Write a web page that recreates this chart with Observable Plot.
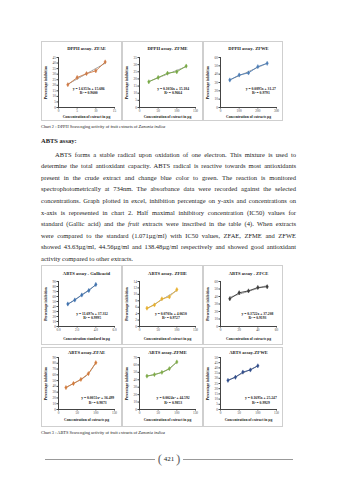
<!DOCTYPE html>
<html><head><meta charset="utf-8">
<script src="https://cdn.jsdelivr.net/npm/d3@7"></script>
<script src="https://cdn.jsdelivr.net/npm/@observablehq/plot@0.6"></script>
<style>
html,body{margin:0;padding:0;background:#fff;}
#page{position:relative;width:339px;height:480px;overflow:hidden;font-family:"Liberation Serif","DejaVu Serif",serif;color:#222;}
.box{position:absolute;border:1px solid #cfcfcf;box-sizing:border-box;}
.ln{position:absolute;left:41px;width:255px;height:9px;line-height:9px;font-size:6.5px;white-space:nowrap;text-align:justify;text-align-last:justify;}
.cap{position:absolute;left:41px;font-size:4.4px;white-space:nowrap;line-height:6px;}
</style></head>
<body><div id="page"></div>
<script>
// ---- data ----
const dpphZfaeX = [2.5, 5, 7.5, 10, 12.5];
const dpphZfaeY = [20.5, 27, 30.5, 33, 41];
const dpphZfaeXTicks = [0, 5, 10, 15];
const dpphZfaeYTicks = [0, 5, 10, 15, 20, 25, 30, 35, 40, 45];

const dpphZfmeX = [25, 50, 75, 100, 125];
const dpphZfmeY = [18, 21, 24, 25, 29];
const dpphZfmeXTicks = [0, 50, 100, 150];
const dpphZfmeYTicks = [0, 5, 10, 15, 20, 25, 30, 35];

const dpphZfweX = [50, 100, 150, 200, 250];
const dpphZfweY = [33, 39, 41.5, 49, 53];
const dpphZfweXTicks = [0, 100, 200, 300];
const dpphZfweYTicks = [0, 10, 20, 30, 40, 50, 60];

const abtsGallicX = [1, 1.75, 2.5, 3.25, 4];
const abtsGallicY = [45, 53, 63, 72, 84];
const abtsGallicXTicks = [0, 2, 4, 6];
const abtsGallicYTicks = [0, 10, 20, 30, 40, 50, 60, 70, 80, 90];

const abtsZfheX = [20, 40, 60, 80, 100];
const abtsZfheY = [5.7, 6.7, 8.6, 9.2, 11.5];
const abtsZfheXTicks = [0, 50, 100, 150];
const abtsZfheYTicks = [0, 2, 4, 6, 8, 10, 12, 14];

const abtsZfceX = [10, 20, 30, 40, 50];
const abtsZfceY = [37, 45, 47.5, 52, 53];
const abtsZfceXTicks = [0, 20, 40, 60];
const abtsZfceYTicks = [0, 10, 20, 30, 40, 50, 60];

const abtsZfaeX = [20, 40, 60, 80, 100];
const abtsZfaeY = [38, 45, 52, 62, 81];
const abtsZfaeXTicks = [0, 50, 100, 150];
const abtsZfaeYTicks = [0, 10, 20, 30, 40, 50, 60, 70, 80, 90];

const abtsZfmeX = [20, 40, 60, 80, 100];
const abtsZfmeY = [45, 47, 50, 55, 64];
const abtsZfmeXTicks = [0, 50, 100, 150];
const abtsZfmeYTicks = [0, 10, 20, 30, 40, 50, 60, 70];

const abtsZfweX = [20, 40, 60, 80, 100];
const abtsZfweY = [28, 31, 36, 38, 42];
const abtsZfweXTicks = [0, 50, 100, 150];
const abtsZfweYTicks = [0, 5, 10, 15, 20, 25, 30, 35, 40, 45, 50];

const chartTitles = ["DPPH assay- ZFAE", "DPPH assay- ZFME", "DPPH assay- ZFWE",
  "ABTS assay - Gallicacid", "ABTS assay- ZFHE", "ABTS assay - ZFCE",
  "ABTS assay-ZFAE", "ABTS assay-ZFME", "ABTS assay-ZFWE"];
const xLabels = ["Concentration of extract in µg", "Concentration of extract in µg", "Concentration of extracts µg",
  "Concentration standard in µg", "Concentration of extract in µg", "Concentration of extracts µg",
  "Concentration of extracts µg", "Concentration of extract in µg", "Concentration of extract in µg"];
const equations = ["y = 1.6353x + 15.686", "y = 0.1056x + 15.184", "y = 0.0895x + 31.27",
  "y = 11.697x + 37.312", "y = 0.0703x + 4.0650", "y = 0.3722x + 37.208",
  "y = 0.0051x² + 36.499", "y = 0.0024x² + 44.592", "y = 0.1695x + 25.247"];
const rSquared = ["R² = 0.9600", "R² = 0.9664", "R² = 0.9791",
  "R² = 0.9995", "R² = 0.9727", "R² = 0.9193",
  "R² = 0.9873", "R² = 0.9853", "R² = 0.9929"];
const colors = ["#cf7a45", "#77a843", "#4d7db6", "#3f72af", "#e8b02e", "#3a3a3a", "#d27a3a", "#7fab48", "#2f4c8a"];

const paragraph = [
  "ABTS forms a stable radical upon oxidation of one electron. This mixture is used to",
  "determine the total antioxidant capacity. ABTS radical is reactive towards most antioxidants",
  "present in the crude extract and change blue color to green. The reaction is monitored",
  "spectrophotometrically at 734nm. The absorbance data were recorded against the selected",
  "concentrations. Graph plotted in excel, inhibition percentage on y-axis and concentrations on",
  "x-axis is represented in chart 2. Half maximal inhibitory concentration (IC50) values for",
  "standard (Gallic acid) and the <i>fruit</i> extracts were inscribed in the table (4). When extracts",
  "were compared to the standard (1.071µg/ml) with IC50 values, ZFAE, ZFME and ZFWE",
  "showed 43.63µg/ml, 44.56µg/ml and 138.48µg/ml respectively and showed good antioxidant",
  "activity compared to other extracts."
];

// ---- layout ----
const page = document.getElementById("page");
const colLeft = [41, 122, 203];
const rows = [
  {top: 41, mt: 16, mb: 14, titleDy: -9, xlabDy: 9},
  {top: 265, mt: 16, mb: 19, titleDy: -8, xlabDy: 12},
  {top: 347, mt: 10, mb: 18, titleDy: -5, xlabDy: 10}
];
const series = [
  [dpphZfaeX, dpphZfaeY, dpphZfaeXTicks, dpphZfaeYTicks, false, 0.54, 0.66],
  [dpphZfmeX, dpphZfmeY, dpphZfmeXTicks, dpphZfmeYTicks, false, 0.6, 0.66],
  [dpphZfweX, dpphZfweY, dpphZfweXTicks, dpphZfweYTicks, false, 0.72, 0.66],
  [abtsGallicX, abtsGallicY, abtsGallicXTicks, abtsGallicYTicks, false, 0.6, 0.76],
  [abtsZfheX, abtsZfheY, abtsZfheXTicks, abtsZfheYTicks, false, 0.56, 0.76],
  [abtsZfceX, abtsZfceY, abtsZfceXTicks, abtsZfceYTicks, false, 0.66, 0.76],
  [abtsZfaeX, abtsZfaeY, abtsZfaeXTicks, abtsZfaeYTicks, true, 0.7, 0.82],
  [abtsZfmeX, abtsZfmeY, abtsZfmeXTicks, abtsZfmeYTicks, true, 0.6, 0.82],
  [abtsZfweX, abtsZfweY, abtsZfweXTicks, abtsZfweYTicks, false, 0.72, 0.82]
];

series.forEach(([xs, ys, xt, yt, curved, ex, ey], i) => {
  const r = rows[Math.floor(i / 3)], left = colLeft[i % 3];
  const data = xs.map((x, j) => ({x, y: ys[j]}));
  const H = 80, plotH = H - r.mt - r.mb, plotW = 80 - 17 - 7;
  const box = document.createElement("div");
  box.className = "box";
  box.style.left = left + "px"; box.style.top = r.top + "px";
  box.style.width = (i % 3 === 2 ? 80 : 81) + "px"; box.style.height = "80px";
  page.appendChild(box);
  const svg = Plot.plot({
    width: 80, height: H,
    marginLeft: 17, marginRight: 7, marginTop: r.mt, marginBottom: r.mb,
    style: {fontFamily: "Liberation Serif", fontSize: "3.4px", background: "transparent", overflow: "visible", color: "#444"},
    x: {domain: [xt[0], xt[xt.length - 1]], ticks: xt, tickSize: 1.5, tickPadding: 1, label: null, line: true},
    y: {domain: [yt[0], yt[yt.length - 1]], ticks: yt, tickSize: 1.5, tickPadding: 1, label: null, line: true},
    marks: [
      curved ? Plot.line(data, {x: "x", y: "y", curve: "natural", stroke: "#333", strokeWidth: 0.5, strokeDasharray: "1,1"})
             : Plot.linearRegressionY(data, {x: "x", y: "y", stroke: "#333", strokeWidth: 0.5, strokeDasharray: "1,1", ci: 0}),
      Plot.line(data, {x: "x", y: "y", stroke: colors[i], strokeWidth: 0.9}),
      Plot.dot(data, {x: "x", y: "y", symbol: "diamond", r: 1.3, fill: colors[i], stroke: colors[i], strokeWidth: 0.4}),
      Plot.text([chartTitles[i]], {frameAnchor: "top", lineAnchor: "middle", dy: r.titleDy, fontSize: 4.6, fontWeight: "bold", fill: "#222"}),
      Plot.text([xLabels[i]], {frameAnchor: "bottom", lineAnchor: "middle", dy: r.xlabDy, fontSize: 3.7, fontWeight: "bold", fill: "#222"}),
      Plot.text(["Percentage inhibition"], {frameAnchor: "left", lineAnchor: "middle", textAnchor: "middle", dx: -12.5, rotate: -90, fontSize: 3.7, fontWeight: "bold", fill: "#222"}),
      Plot.text([equations[i] + "\n" + rSquared[i]], {frameAnchor: "top-left", textAnchor: "middle", lineAnchor: "middle", lineHeight: 1.15, dx: ex * plotW, dy: ey * plotH, fontSize: 3.7, fontWeight: "bold", fill: "#222"})
    ]
  });
  svg.style.position = "absolute";
  svg.style.left = left + "px"; svg.style.top = r.top + "px";
  page.appendChild(svg);
});

function addDiv(cls, html, top, extra) {
  const d = document.createElement("div");
  d.className = cls; d.innerHTML = html; d.style.top = top + "px";
  if (extra) Object.assign(d.style, extra);
  page.appendChild(d);
  return d;
}
addDiv("cap", "Chart 2 : DPPH Scavenging activity of fruit extracts of <i>Zanonia indica</i>", 124);
addDiv("ln", "<b>ABTS assay:</b>", 135.5, {textAlignLast: "left", textAlign: "left"});
paragraph.forEach((t, k) => {
  const y = 154 + 11.6 * k - 4.5;
  const extra = {};
  if (k === 0) { extra.left = "55px"; extra.width = "241px"; }
  if (k === paragraph.length - 1) { extra.textAlignLast = "left"; extra.textAlign = "left"; }
  addDiv("ln", t, y, extra);
});
addDiv("cap", "Chart 3 : ABTS Scavenging activity of fruit extracts of <i>Zanonia indica</i>", 430);

// footer
const rule1 = document.createElement("div");
Object.assign(rule1.style, {position: "absolute", left: "45px", width: "110px", top: "459px", height: "0", borderTop: "0.8px solid #999"});
page.appendChild(rule1);
const rule2 = rule1.cloneNode(); rule2.style.left = "183px"; page.appendChild(rule2);
const pn = document.createElement("div");
Object.assign(pn.style, {position: "absolute", left: "154px", width: "30px", top: "452px", height: "14px", lineHeight: "14px", textAlign: "center", fontSize: "7px", whiteSpace: "nowrap"});
pn.innerHTML = '<span style="font-size:13px;color:#666;vertical-align:middle">(</span>&nbsp;421&nbsp;<span style="font-size:13px;color:#666;vertical-align:middle">)</span>';
page.appendChild(pn);
</script></body></html>
